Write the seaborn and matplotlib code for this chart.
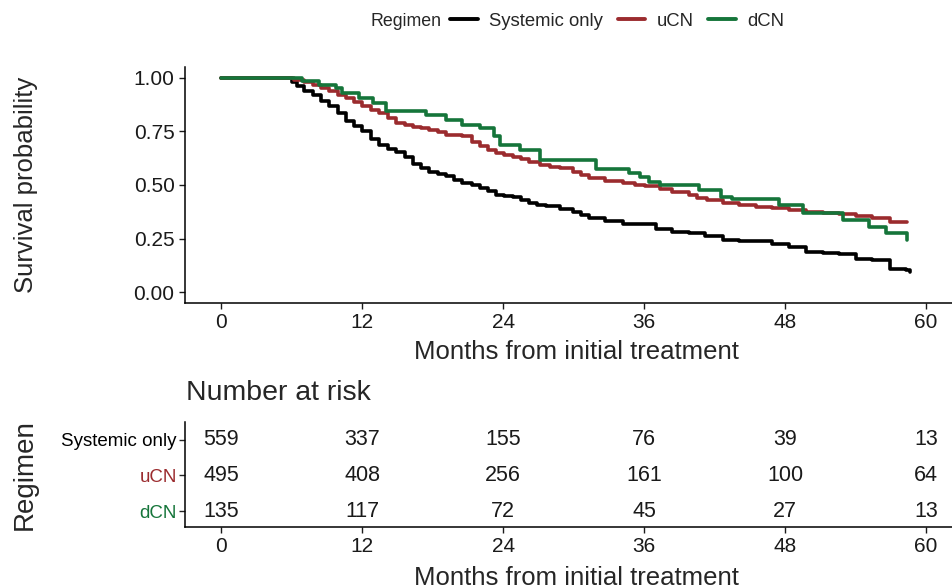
import numpy as np
import pandas as pd
import matplotlib
matplotlib.use("Agg")
import matplotlib.pyplot as plt
from matplotlib.lines import Line2D
import seaborn as sns

# Kaplan-Meier curves: (month, survival probability)
systemic_curve = [(0, 1.0), (6.0, 0.98), (6.4, 0.96), (7.0, 0.94), (7.8, 0.92), (8.5, 0.89),
                  (9.2, 0.866), (9.9, 0.835), (10.6, 0.80), (11.3, 0.775), (12.0, 0.75),
                  (12.7, 0.715), (13.4, 0.687), (14.2, 0.67), (14.9, 0.656), (15.6, 0.63),
                  (16.3, 0.60), (17.0, 0.58), (17.7, 0.56), (18.4, 0.55), (19.1, 0.54),
                  (19.8, 0.525), (20.5, 0.51), (21.3, 0.50), (22.0, 0.485), (22.7, 0.47),
                  (23.4, 0.453), (24.1, 0.448), (24.8, 0.445), (25.5, 0.43), (26.2, 0.414),
                  (26.9, 0.405), (27.6, 0.40), (28.8, 0.386), (29.9, 0.375), (30.6, 0.36),
                  (31.3, 0.344), (32.7, 0.33), (34.2, 0.32), (35.6, 0.318), (37.0, 0.293),
                  (38.4, 0.283), (39.8, 0.274), (41.2, 0.26), (42.7, 0.243), (44.1, 0.241),
                  (45.5, 0.24), (46.9, 0.225), (48.3, 0.21), (49.8, 0.188), (51.2, 0.185),
                  (52.6, 0.18), (54.0, 0.157), (55.4, 0.15), (56.9, 0.11), (58.3, 0.106),
                  (58.6, 0.095)]
ucn_curve = [(0, 1.0), (6.2, 0.99), (7.0, 0.98), (7.8, 0.967), (8.5, 0.95), (9.2, 0.936),
             (9.9, 0.92), (10.6, 0.905), (11.3, 0.885), (12.0, 0.866), (12.7, 0.85),
             (13.4, 0.835), (14.2, 0.81), (14.9, 0.79), (15.6, 0.78), (16.3, 0.772),
             (17.0, 0.765), (17.7, 0.757), (18.4, 0.745), (19.1, 0.734), (20.5, 0.726),
             (21.3, 0.70), (22.0, 0.68), (22.7, 0.665), (23.4, 0.648), (24.1, 0.64),
             (24.8, 0.632), (25.5, 0.62), (26.2, 0.609), (27.1, 0.595), (28.0, 0.585),
             (28.8, 0.578), (29.9, 0.562), (30.6, 0.545), (31.3, 0.531), (32.7, 0.52),
             (34.2, 0.508), (35.2, 0.50), (36.1, 0.495), (37.3, 0.48), (38.4, 0.469),
             (39.8, 0.453), (40.5, 0.44), (41.3, 0.43), (42.7, 0.418), (44.1, 0.407),
             (45.5, 0.398), (46.9, 0.391), (48.3, 0.383), (49.8, 0.375), (51.2, 0.37),
             (52.6, 0.364), (54.0, 0.355), (55.4, 0.344), (56.9, 0.329), (58.4, 0.329)]
dcn_curve = [(0, 1.0), (6.5, 1.0), (6.9, 0.983), (8.3, 0.967), (9.8, 0.952), (10.3, 0.93),
             (11.7, 0.905), (12.9, 0.882), (14.0, 0.843), (17.4, 0.827), (19.1, 0.804),
             (20.5, 0.78), (22.0, 0.765), (23.2, 0.726), (23.7, 0.687), (25.4, 0.664),
             (27.1, 0.617), (31.9, 0.573), (34.7, 0.555), (35.6, 0.539), (36.4, 0.515),
             (37.3, 0.50), (40.7, 0.477), (42.5, 0.445), (43.5, 0.433), (47.5, 0.407),
             (49.5, 0.368), (52.9, 0.336), (55.1, 0.305), (56.6, 0.277), (58.4, 0.243)]

groups = ["Systemic only", "uCN", "dCN"]
colors = ["#000000", "#9B2B2E", "#15753A"]

# number at risk table
risk_times = [0, 12, 24, 36, 48, 60]
risk_systemic = [559, 337, 155, 76, 39, 13]
risk_ucn = [495, 408, 256, 161, 100, 64]
risk_dcn = [135, 117, 72, 45, 27, 13]

y_ticks = [0.00, 0.25, 0.50, 0.75, 1.00]

sns.set_style("ticks")
plt.rcParams["font.family"] = ["Liberation Sans", "DejaVu Sans"]

rows = []
for name, curve in zip(groups, [systemic_curve, ucn_curve, dcn_curve]):
    for t, s in curve:
        rows.append({"time": t, "surv": s, "Regimen": name})
df = pd.DataFrame(rows)

fig = plt.figure(figsize=(9.52, 5.88), dpi=100)
ax = fig.add_axes([0.1943, 0.4847, 0.8057, 0.4014])
ax2 = fig.add_axes([0.1943, 0.1037, 0.8057, 0.1786])

pal = dict(zip(groups, colors))
sns.lineplot(data=df, x="time", y="surv", hue="Regimen", hue_order=groups, palette=pal,
             estimator=None, drawstyle="steps-post", linewidth=2.6, ax=ax, legend=False)

ax.set_xlim(-3.1, 62.2)
ax.set_ylim(-0.05, 1.05)
ax.set_xticks(risk_times)
ax.set_yticks(y_ticks)
ax.set_yticklabels([f"{v:.2f}" for v in y_ticks])
ax.tick_params(labelsize=15, length=4, width=1, colors="#1a1a1a")
ax.set_xlabel("Months from initial treatment", fontsize=18.5)
ax.set_ylabel("Survival probability", fontsize=18.5)
ax.xaxis.set_label_coords(0.51, -0.155)
ax.yaxis.set_label_coords(-0.192, 0.5)
sns.despine(ax=ax)
for sp in ["left", "bottom"]:
    ax.spines[sp].set_linewidth(1.1)
    ax.spines[sp].set_color("black")

# legend on top
handles = [Line2D([], [], color=c, lw=2.8) for c in colors]
fig.text(370 / 952, 1 - 21 / 588, "Regimen", fontsize=12.8, va="center", ha="left")
fig.legend(handles, groups, loc="center", bbox_to_anchor=(617 / 952, 1 - 21 / 588), ncol=3,
           frameon=False, fontsize=13.3, handlelength=1.5, handletextpad=0.6,
           columnspacing=0.8)

# number at risk table
row_pos = [3, 2, 1]
for y, counts, c in zip(row_pos, [risk_systemic, risk_ucn, risk_dcn], colors):
    for t, n in zip(risk_times, counts):
        ax2.text(t, y, str(n), ha="center", va="center", fontsize=15.5, color="#1a1a1a")
ax2.set_xlim(-3.1, 62.2)
ax2.set_ylim(0.55, 3.5)
ax2.set_xticks(risk_times)
ax2.set_yticks(row_pos)
ax2.set_yticklabels(groups)
for lab, c in zip(ax2.get_yticklabels(), colors):
    lab.set_color(c)
ax2.tick_params(axis="x", labelsize=15, length=4, width=1, colors="#1a1a1a")
ax2.tick_params(axis="y", labelsize=13.5, length=4, width=1, pad=2)
ax2.set_xlabel("Months from initial treatment", fontsize=18.5)
ax2.set_ylabel("Regimen", fontsize=20)
ax2.xaxis.set_label_coords(0.51, -0.37)
ax2.yaxis.set_label_coords(-0.192, 0.5)
sns.despine(ax=ax2)
for sp in ["left", "bottom"]:
    ax2.spines[sp].set_linewidth(1.1)
    ax2.spines[sp].set_color("black")
fig.text(186 / 952, 1 - 393 / 588, "Number at risk", fontsize=20.5, va="center", ha="left")

fig.savefig("out.png", dpi=100)
